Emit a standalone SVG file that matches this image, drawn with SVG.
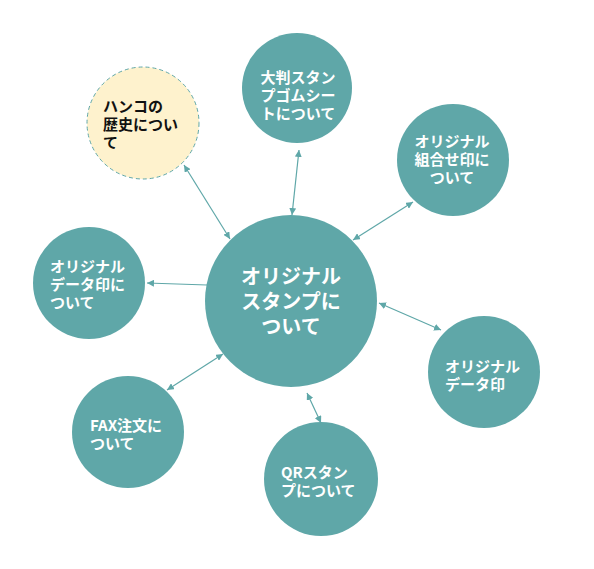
<svg xmlns="http://www.w3.org/2000/svg" width="594" height="569" viewBox="0 0 594 569">
<style>
.n{fill:#5fa7a8}
.h{fill:#fef2cd;stroke:#5fa7a8;stroke-width:1;stroke-dasharray:4 3}
.t{font-family:"Noto Sans CJK JP","Noto Sans",sans-serif;font-weight:bold;font-size:15px;fill:#fff}
.tb{fill:#111}
.tc{font-size:20px}
.c{stroke:#5fa7a8;stroke-width:1.2;fill:none}
</style>
<defs>
<marker id="a" viewBox="0 0 10 10" refX="10" refY="5" markerWidth="7" markerHeight="7" markerUnits="userSpaceOnUse" orient="auto-start-reverse">
<path d="M0,0 L10,5 L0,10 z" fill="#5fa7a8"/>
</marker>
</defs>
<rect width="594" height="569" fill="#fff"/>
<g id="connectors">
<line class="c" x1="184" y1="165" x2="230" y2="239" marker-start="url(#a)" marker-end="url(#a)"/>
<line class="c" x1="299" y1="150" x2="292" y2="215" marker-start="url(#a)" marker-end="url(#a)"/>
<line class="c" x1="413" y1="202" x2="353" y2="240" marker-start="url(#a)" marker-end="url(#a)"/>
<line class="c" x1="207" y1="285" x2="147" y2="283" marker-end="url(#a)"/>
<line class="c" x1="379" y1="303" x2="441" y2="330" marker-start="url(#a)" marker-end="url(#a)"/>
<line class="c" x1="223" y1="354" x2="167" y2="390" marker-start="url(#a)" marker-end="url(#a)"/>
<line class="c" x1="307" y1="393" x2="321" y2="423" marker-start="url(#a)" marker-end="url(#a)"/>
</g>
<g id="hanko">
<circle class="h" cx="143" cy="123" r="56"/>
<text class="t tb" x="103" y="112">ハンコの<tspan x="103" dy="18">歴史につい</tspan><tspan x="103" dy="18">て</tspan></text>
</g>
<g id="ohban">
<circle class="n" cx="297" cy="88" r="55"/>
<text class="t" x="298" y="83" text-anchor="middle">大判スタン<tspan x="298" dy="18">プゴムシー</tspan><tspan x="298" dy="18">トについて</tspan></text>
</g>
<g id="kumiawase">
<circle class="n" cx="453" cy="160" r="56"/>
<text class="t" x="452" y="147" text-anchor="middle">オリジナル<tspan x="452" dy="18">組合せ印に</tspan><tspan x="452" dy="18">ついて</tspan></text>
</g>
<g id="center">
<circle class="n" cx="291" cy="301" r="86"/>
<text class="t tc" x="291" y="284" text-anchor="middle">オリジナル<tspan x="291" dy="25">スタンプに</tspan><tspan x="291" dy="25">ついて</tspan></text>
</g>
<g id="data-left">
<circle class="n" cx="89" cy="283" r="56"/>
<text class="t" x="50" y="272">オリジナル<tspan x="50" dy="18">データ印に</tspan><tspan x="50" dy="18">ついて</tspan></text>
</g>
<g id="data-right">
<circle class="n" cx="484" cy="372" r="56"/>
<text class="t" x="445" y="372">オリジナル<tspan x="445" dy="18">データ印</tspan></text>
</g>
<g id="fax">
<circle class="n" cx="128" cy="432" r="56"/>
<text class="t" x="90" y="431">FAX注文に<tspan x="90" dy="18">ついて</tspan></text>
</g>
<g id="qr">
<circle class="n" cx="321" cy="479" r="57"/>
<text class="t" x="281" y="478">QRスタン<tspan x="281" dy="18">プについて</tspan></text>
</g>
</svg>
